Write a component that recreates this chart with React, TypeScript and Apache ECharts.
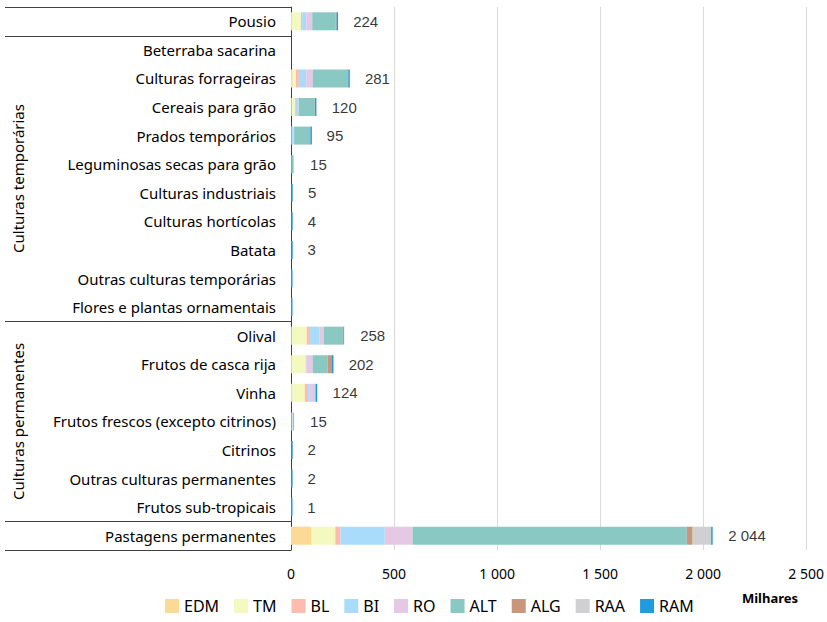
import React, { useEffect, useRef } from "react";
import * as echarts from "echarts";

const categories = [
  "Pousio",
  "Beterraba sacarina",
  "Culturas forrageiras",
  "Cereais para grão",
  "Prados temporários",
  "Leguminosas secas para grão",
  "Culturas industriais",
  "Culturas hortícolas",
  "Batata",
  "Outras culturas temporárias",
  "Flores e plantas ornamentais",
  "Olival",
  "Frutos de casca rija",
  "Vinha",
  "Frutos frescos (excepto citrinos)",
  "Citrinos",
  "Outras culturas permanentes",
  "Frutos sub-tropicais",
  "Pastagens permanentes",
];

const seriesNames = ["EDM", "TM", "BL", "BI", "RO", "ALT", "ALG", "RAA", "RAM"];
const seriesColors = ["#FDD996", "#F4F9C0", "#FDBCAE", "#A9DBFA", "#E4C8E4", "#89C8C3", "#C9967D", "#D0CFD1", "#1F9BDE"];

const EDM = [5, 0, 8, 2, 1, 0, 0, 0, 0, 0, 0, 3, 1, 6, 2, 0, 0, 0, 100];
const TM = [43, 0, 16, 17, 2, 1, 0, 0, 0, 0, 0, 73, 70, 61, 1, 0, 0, 0, 115];
const BL = [6, 0, 14, 4, 1, 0, 0, 0, 0, 0, 0, 16, 1, 11, 1, 0, 0, 0, 25];
const BI = [20, 0, 36, 6, 8, 2, 0, 0, 0, 0, 0, 45, 2, 13, 4, 0, 0, 0, 215];
const RO = [29, 0, 31, 8, 3, 0, 0, 0, 0, 0, 0, 22, 31, 24, 2, 0, 0, 0, 135];
const ALT = [114, 0, 168, 78, 78, 10, 1, 1, 1, 0, 0, 93, 72, 5, 5, 0, 0.5, 0, 1331];
const ALG = [4, 0, 5, 1, 1, 0, 0, 0, 0, 0, 0, 6, 22, 0, 0, 1, 0, 0, 28];
const RAA = [0, 0, 0, 0, 0, 2, 0, 0, 0, 0, 0, 0, 0, 0, 0, 0, 0, 0, 90];
const RAM = [3, 0, 3, 4, 1, 0, 4, 3, 2, 0.4, 0.2, 0, 3, 4, 0, 1, 1.5, 1, 5];

const totalLabels = ["224", "", "281", "120", "95", "15", "5", "4", "3", "", "", "258", "202", "124", "15", "2", "2", "1", "2 044"];

const xTicks = { min: 0, max: 2500, interval: 500 };

const groups = [
  { label: "", from: 0, to: 0 },
  { label: "Culturas temporárias", from: 1, to: 10 },
  { label: "Culturas permanentes", from: 11, to: 17 },
  { label: "", from: 18, to: 18 },
];

const fmt = (v: number) => String(Math.round(v)).replace(/\B(?=(\d{3})+(?!\d))/g, " ");

export default function App() {
  const ref = useRef<HTMLDivElement>(null);
  useEffect(() => {
    document.body.style.margin = "0";
    const chart = echarts.init(ref.current!, null, { renderer: "svg" });
    const values = [EDM, TM, BL, BI, RO, ALT, ALG, RAA, RAM];
    const totals = categories.map((_, i) => values.reduce((s, arr) => s + arr[i], 0));

    const gridLeft = 291;
    const gridTop = 7;
    const gridBottom = 72;
    const H = 622;
    const gridH = H - gridTop - gridBottom;
    const rowH = gridH / categories.length;
    const lineColor = "#404040";

    const graphics: any[] = [];
    const boundaries = new Set<number>();
    groups.forEach((g) => {
      boundaries.add(g.from);
      boundaries.add(g.to + 1);
    });
    boundaries.forEach((k) => {
      const y = Math.round(gridTop + k * rowH) + 0.5;
      graphics.push({
        type: "line",
        shape: { x1: 5, y1: y, x2: gridLeft, y2: y },
        style: { stroke: lineColor, lineWidth: 1 },
        silent: true,
      });
    });
    groups.forEach((g) => {
      if (!g.label) return;
      const cy = gridTop + ((g.from + g.to + 1) / 2) * rowH;
      graphics.push({
        type: "text",
        x: 18,
        y: cy,
        rotation: Math.PI / 2,
        style: {
          text: g.label,
          fontFamily: "Noto Sans",
          fontSize: 15,
          fill: "#000000",
          align: "center",
          verticalAlign: "middle",
        },
      });
    });
    graphics.push({
      type: "text",
      x: 770,
      y: 598,
      style: {
        text: "Milhares",
        fontFamily: "Noto Sans",
        fontSize: 13,
        fontWeight: "bold",
        fill: "#000000",
        align: "center",
        verticalAlign: "middle",
      },
    });

    const barSeries = seriesNames.map((name, si) => {
      const isLast = si === seriesNames.length - 1;
      return {
        name,
        type: "bar",
        stack: "total",
        data: isLast ? values[si].map((v) => (v === 0 ? null : v)) : values[si],
        barCategoryGap: "37%",
        barMinHeight: isLast ? 1.5 : 0,
        itemStyle: { color: seriesColors[si] },
        emphasis: { disabled: true },
      };
    });

    chart.setOption({
      animation: false,
      grid: { left: gridLeft, right: 18, top: gridTop, bottom: gridBottom, containLabel: false },
      legend: {
        data: seriesNames,
        left: 163,
        top: 596,
        padding: 2,
        icon: "rect",
        itemWidth: 14,
        itemHeight: 14,
        itemGap: 15,
        textStyle: { fontFamily: "Noto Sans", fontSize: 16, lineHeight: 16, color: "#000000" },
      },
      xAxis: {
        type: "value",
        min: xTicks.min,
        max: xTicks.max,
        interval: xTicks.interval,
        axisLine: { show: false },
        axisTick: { show: false },
        splitLine: { show: true, lineStyle: { color: "#D9D9D9", width: 1 } },
        axisLabel: {
          fontFamily: "Noto Sans",
          fontSize: 14,
          color: "#000000",
          margin: 16,
          formatter: (v: number) => fmt(v),
        },
      },
      yAxis: {
        type: "category",
        data: categories,
        inverse: true,
        axisLine: { show: true, lineStyle: { color: lineColor, width: 1 } },
        axisTick: { show: false },
        splitLine: { show: false },
        axisLabel: {
          fontFamily: "Noto Sans",
          fontSize: 15,
          color: "#000000",
          margin: 15,
        },
      },
      series: [
        ...barSeries,
        {
          name: "total",
          type: "scatter",
          symbolSize: 0,
          silent: true,
          data: categories.map((c, i) => [totals[i], c]),
          label: {
            show: true,
            position: "right",
            distance: 16,
            fontFamily: "Liberation Sans",
            fontSize: 15,
            color: "#000000",
            formatter: (p: any) => totalLabels[p.dataIndex],
          },
        },
      ],
      graphic: graphics,
    });
    return () => chart.dispose();
  }, []);
  return <div ref={ref} style={{ width: 827, height: 622 }} />;
}
